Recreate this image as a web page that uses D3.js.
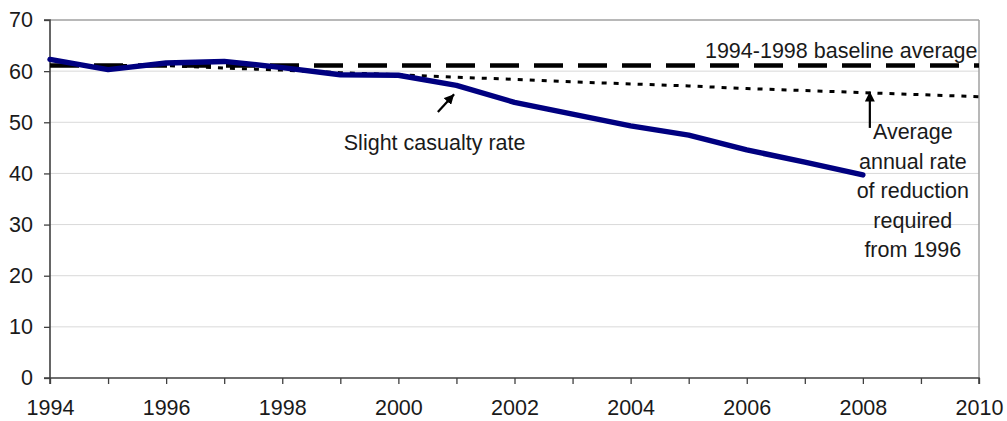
<!DOCTYPE html>
<html>
<head>
<meta charset="utf-8">
<script src="https://cdn.jsdelivr.net/npm/d3@7"></script>
<style>
  html, body { margin: 0; padding: 0; background: #fff; }
  svg { display: block; font-family: "Liberation Sans", Arial, sans-serif; }
</style>
</head>
<body>
<svg id="chart" width="1007" height="421"></svg>
<script>
// ---- data ----
const years = [1994, 1995, 1996, 1997, 1998, 1999, 2000, 2001, 2002, 2003, 2004, 2005, 2006, 2007, 2008];
const slightRate = [62.3, 60.3, 61.6, 61.9, 60.7, 59.3, 59.2, 57.2, 53.9, 51.6, 49.3, 47.5, 44.6, 42.2, 39.7];
const targetYears = [1994, 1995, 1996, 1997, 1998, 1999, 2000, 2001, 2002, 2003, 2004, 2005, 2006, 2007, 2008, 2009, 2010];
const targetRate = [61.1, 61.1, 61.1, 60.6, 60.2, 59.7, 59.3, 58.8, 58.4, 57.9, 57.5, 57.1, 56.6, 56.2, 55.8, 55.4, 55.0];
const baselineAverage = 61.1;
const xTicks = [1994, 1995, 1996, 1997, 1998, 1999, 2000, 2001, 2002, 2003, 2004, 2005, 2006, 2007, 2008, 2009, 2010];
const xLabels = [1994, 1996, 1998, 2000, 2002, 2004, 2006, 2008, 2010];
const yTicks = [0, 10, 20, 30, 40, 50, 60, 70];
const baselineLabel = "1994-1998 baseline average";
const slightLabel = "Slight casualty rate";
const reductionLabel = ["Average", "annual rate", "of reduction", "required", "from 1996"];

// ---- layout ----
const W = 1007, H = 421;
const m = { left: 50, right: 28, top: 20, bottom: 43 };
const svg = d3.select("#chart");
const x = d3.scaleLinear().domain([1994, 2010]).range([m.left, W - m.right]);
const y = d3.scaleLinear().domain([0, 70]).range([H - m.bottom, m.top]);
const FS = 21.5;

// gridlines
svg.append("g").selectAll("line")
  .data(yTicks.filter(d => d > 0 && d < 70))
  .join("line")
  .attr("x1", x(1994)).attr("x2", x(2010))
  .attr("y1", d => y(d)).attr("y2", d => y(d))
  .attr("stroke", "#d9d9d9").attr("stroke-width", 1);

// top & right border
svg.append("line").attr("x1", x(1994)).attr("x2", x(2010)).attr("y1", y(70)).attr("y2", y(70))
  .attr("stroke", "#a0a0a0").attr("stroke-width", 1.5);
svg.append("line").attr("x1", x(2010)).attr("x2", x(2010)).attr("y1", y(70)).attr("y2", y(0))
  .attr("stroke", "#a0a0a0").attr("stroke-width", 1.5);

// axes
const xAxis = d3.axisBottom(x).tickValues(xTicks).tickSize(6).tickPadding(16)
  .tickFormat(d => xLabels.includes(d) ? String(d) : "");
const gx = svg.append("g").attr("transform", `translate(0,${y(0)})`).call(xAxis);
const yAxis = d3.axisLeft(y).tickValues(yTicks).tickSize(6).tickPadding(11).tickFormat(d3.format("d"));
const gy = svg.append("g").attr("transform", `translate(${x(1994)},0)`).call(yAxis);
[gx, gy].forEach(g => {
  g.select(".domain").attr("stroke", "#404040").attr("stroke-width", 1.6);
  g.selectAll(".tick line").attr("stroke", "#404040").attr("stroke-width", 1.3);
  g.selectAll(".tick text").attr("fill", "#1a1a1a").style("font-size", FS + "px")
    .style("font-family", '"Liberation Sans", Arial, sans-serif');
});
gy.select(".domain").attr("d", `M-6,${y(70)}H0V${y(0)}H-6`);
gx.select(".domain").attr("d", `M${x(1994)},6V0H${x(2010)}V6`);

// baseline average
svg.append("line")
  .attr("x1", x(1994)).attr("x2", x(2010))
  .attr("y1", y(baselineAverage)).attr("y2", y(baselineAverage))
  .attr("stroke", "#000").attr("stroke-width", 4.5)
  .attr("stroke-dasharray", "29,15");

// target dotted line
const line = d3.line().x(d => x(d[0])).y(d => y(d[1]));
svg.append("path")
  .datum(targetYears.map((yr, i) => [yr, targetRate[i]]))
  .attr("d", line)
  .attr("fill", "none").attr("stroke", "#000").attr("stroke-width", 3)
  .attr("stroke-dasharray", "5,7");

// slight casualty rate
svg.append("path")
  .datum(years.map((yr, i) => [yr, slightRate[i]]))
  .attr("d", line)
  .attr("fill", "none").attr("stroke", "#000080").attr("stroke-width", 5.4)
  .attr("stroke-linejoin", "round").attr("stroke-linecap", "round");

// arrow marker
svg.append("defs").append("marker")
  .attr("id", "ah").attr("markerUnits", "userSpaceOnUse")
  .attr("viewBox", "0 0 10 10").attr("refX", 10).attr("refY", 5)
  .attr("markerWidth", 10).attr("markerHeight", 10).attr("orient", "auto")
  .append("path").attr("d", "M0,0L10,5L0,10Z").attr("fill", "#000");

// annotations
svg.append("line")
  .attr("x1", x(2000.68)).attr("y1", y(52.0))
  .attr("x2", x(2000.96)).attr("y2", y(55.5))
  .attr("stroke", "#000").attr("stroke-width", 2.2).attr("marker-end", "url(#ah)");
svg.append("text").attr("x", x(1999.06)).attr("y", y(46.1)).attr("dy", "0.35em")
  .style("font-size", FS + "px").attr("fill", "#1a1a1a").text(slightLabel);

svg.append("text").attr("x", x(2005.28)).attr("y", y(64.1)).attr("dy", "0.35em")
  .style("font-size", FS + "px").attr("fill", "#1a1a1a").text(baselineLabel);

svg.append("line")
  .attr("x1", x(2008.12)).attr("y1", y(48.9))
  .attr("x2", x(2008.12)).attr("y2", y(56.0))
  .attr("stroke", "#000").attr("stroke-width", 2.2).attr("marker-end", "url(#ah)");
const t = svg.append("text").attr("text-anchor", "middle")
  .style("font-size", FS + "px").attr("fill", "#1a1a1a");
reductionLabel.forEach((s, i) => {
  t.append("tspan").attr("x", x(2008.86)).attr("y", y(48.2) + i * 29.6).attr("dy", "0.35em").text(s);
});
</script>
</body>
</html>
